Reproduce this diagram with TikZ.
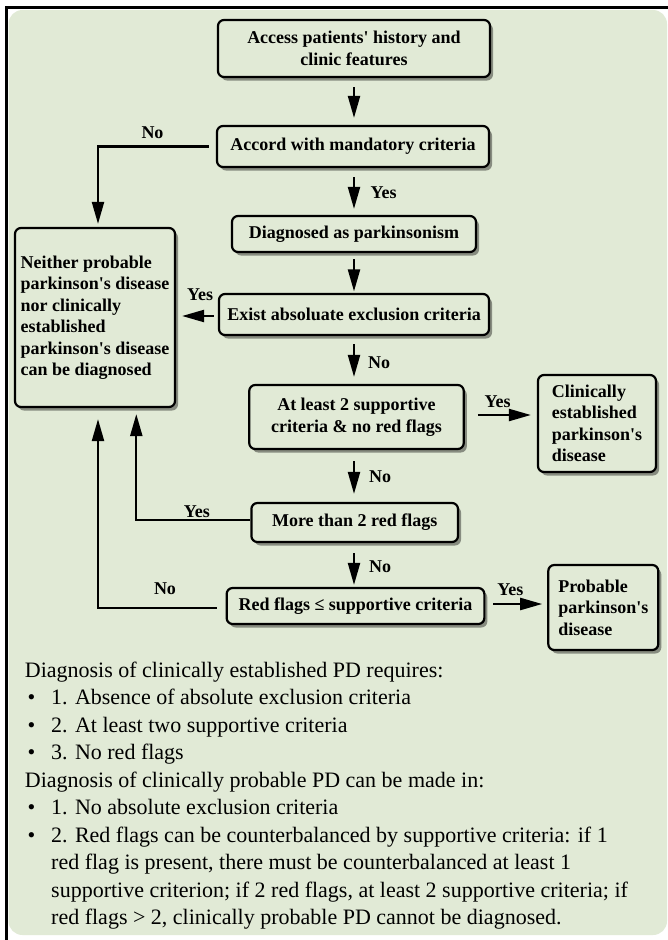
\documentclass[tikz,border=0pt]{standalone}
\usepackage{fontspec}
\setmainfont{Liberation Serif}
\usetikzlibrary{arrows.meta,shadows}
\definecolor{bggreen}{RGB}{225,234,214}
\newcommand{\sq}{\textquotesingle}
\begin{document}
\begin{tikzpicture}[x=1pt,y=-1pt,
  box/.style={draw=black, line width=2.2pt, rounded corners=6pt, fill=bggreen,
    font=\bfseries\fontsize{18}{21.5}\selectfont, inner sep=0pt,
    drop shadow={shadow xshift=3pt, shadow yshift=-3.5pt, fill=black, opacity=0.4}},
  flow/.style={-{Triangle[length=22pt,width=12pt]}, line width=2.2pt},
  lbl/.style={font=\bfseries\fontsize{18}{21.5}\selectfont, inner sep=0pt},
  body/.style={font=\fontsize{22}{27.5}\selectfont, inner sep=0pt, anchor=base west}]
\useasboundingbox (0,0) rectangle (668,940);
\fill[white] (0,0) rectangle (668,940);
\fill[bggreen, rounded corners=14pt] (8.5,10) rectangle (667,935);
\draw[line width=2.7pt] (5,7.3) -- (668,7.3);
\draw[line width=2.7pt] (6.4,6) -- (6.4,940);

\node[box, minimum width=272pt, minimum height=57pt, align=center] (b1) at (354,48.5) {Access patients\sq{} history and\\clinic features};
\node[box, minimum width=272pt, minimum height=41pt] (b2) at (353,146.5) {Accord with mandatory criteria};
\node[box, minimum width=244pt, minimum height=36pt] (b3) at (354,234) {Diagnosed as parkinsonism};
\node[box, minimum width=270pt, minimum height=41pt] (b4) at (354,314.5) {Exist absoluate exclusion criteria};
\node[box, minimum width=214.5pt, minimum height=64pt, align=center] (b5) at (356.5,417) {At least 2 supportive\\criteria \& no red flags};
\node[box, minimum width=206.6pt, minimum height=39pt] (b6) at (354.7,522.5) {More than 2 red flags};
\node[box, minimum width=257.7pt, minimum height=36pt] (b7) at (355.5,606) {Red flags ≤ supportive criteria};
\node[box, minimum width=160pt, minimum height=179pt, align=left] (L) at (95,317.5) {Neither probable\\parkinson\sq{}s disease\\nor clinically\\established\\parkinson\sq{}s disease\\can be diagnosed};
\node[box, minimum width=118pt, minimum height=97pt, align=left] (CE) at (597,423.5) {Clinically\\established\\parkinson\sq{}s\\disease};
\node[box, minimum width=110pt, minimum height=85pt, align=left] (PP) at (603.3,607.5) {Probable\\parkinson\sq{}s\\disease};

\draw[flow, shorten <=9pt, shorten >=7pt] (b1.south) -- (b1.south |- b2.north);
\draw[flow, shorten <=9pt, shorten >=6pt] (b1.south |- b2.south) -- (b1.south |- b3.north);
\draw[flow, shorten <=6pt, shorten >=1.5pt] (b1.south |- b3.south) -- (b1.south |- b4.north);
\draw[flow, shorten <=8pt, shorten >=7pt] (b1.south |- b4.south) -- (b1.south |- b5.north);
\draw[flow, shorten <=11pt, shorten >=8pt] (b1.south |- b5.south) -- (b1.south |- b6.north);
\draw[flow, shorten <=10pt, shorten >=2pt] (b1.south |- b6.south) -- (b1.south |- b7.north);

\draw[flow, shorten <=7pt, shorten >=3pt] (b2.west) -| ([xshift=3pt]L.north);
\draw[flow, shorten <=4pt, shorten >=6pt] ([yshift=-1.5pt]b4.west) -- ([yshift=-1.5pt]b4.west -| L.east);
\draw[flow, shorten <=13pt, shorten >=6pt] ([yshift=2pt]b5.east) -- ([yshift=2pt]b5.east -| CE.west);
\draw[flow, shorten >=6pt] ([yshift=2.5pt]b6.west) -| ([xshift=41.3pt]L.south);
\draw[flow, shorten <=9pt, shorten >=11pt] ([yshift=-2pt]b7.west) -| ([xshift=3pt]L.south);
\draw[flow, shorten <=8pt, shorten >=5pt] ([yshift=2pt]b7.east) -- ([yshift=2pt]b7.east -| PP.west);

\node[lbl] (n1) at (152.5,133) {No};
\node[lbl] (y1) at (383.5,193) {Yes};
\node[lbl] (y2) at (200,295) {Yes};
\node[lbl] (n2) at (379,363) {No};
\node[lbl] (y3) at (497.7,402) {Yes};
\node[lbl] (n3) at (380,477) {No};
\node[lbl] (y4) at (196.8,512) {Yes};
\node[lbl] (n4) at (380,567) {No};
\node[lbl] (n5) at (165,589) {No};
\node[lbl] (y5) at (510.4,590) {Yes};

\node[body] (t1) at (24.7,677) {Diagnosis of clinically established PD requires:};
\node[body] (d1) at (27.5,704.5) {•};
\node[body] (t2) at (51,704.5) {1. Absence of absolute exclusion criteria};
\node[body] (d2) at (27.5,732) {•};
\node[body] (t3) at (51,732) {2. At least two supportive criteria};
\node[body] (d3) at (27.5,759.5) {•};
\node[body] (t4) at (51,759.5) {3. No red flags};
\node[body] (t5) at (24.7,787) {Diagnosis of clinically probable PD can be made in:};
\node[body] (d4) at (27.5,814.5) {•};
\node[body] (t6) at (51,814.5) {1. No absolute exclusion criteria};
\node[body] (d5) at (27.5,842) {•};
\node[body] (t7) at (51,842) {2. Red flags can be counterbalanced by supportive criteria: if 1};
\node[body] (t8) at (51,869.5) {red flag is present, there must be counterbalanced at least 1};
\node[body] (t9) at (51,897) {supportive criterion; if 2 red flags, at least 2 supportive criteria; if};
\node[body] (t10) at (51,924.5) {red flags > 2, clinically probable PD cannot be diagnosed.};
\end{tikzpicture}
\end{document}
